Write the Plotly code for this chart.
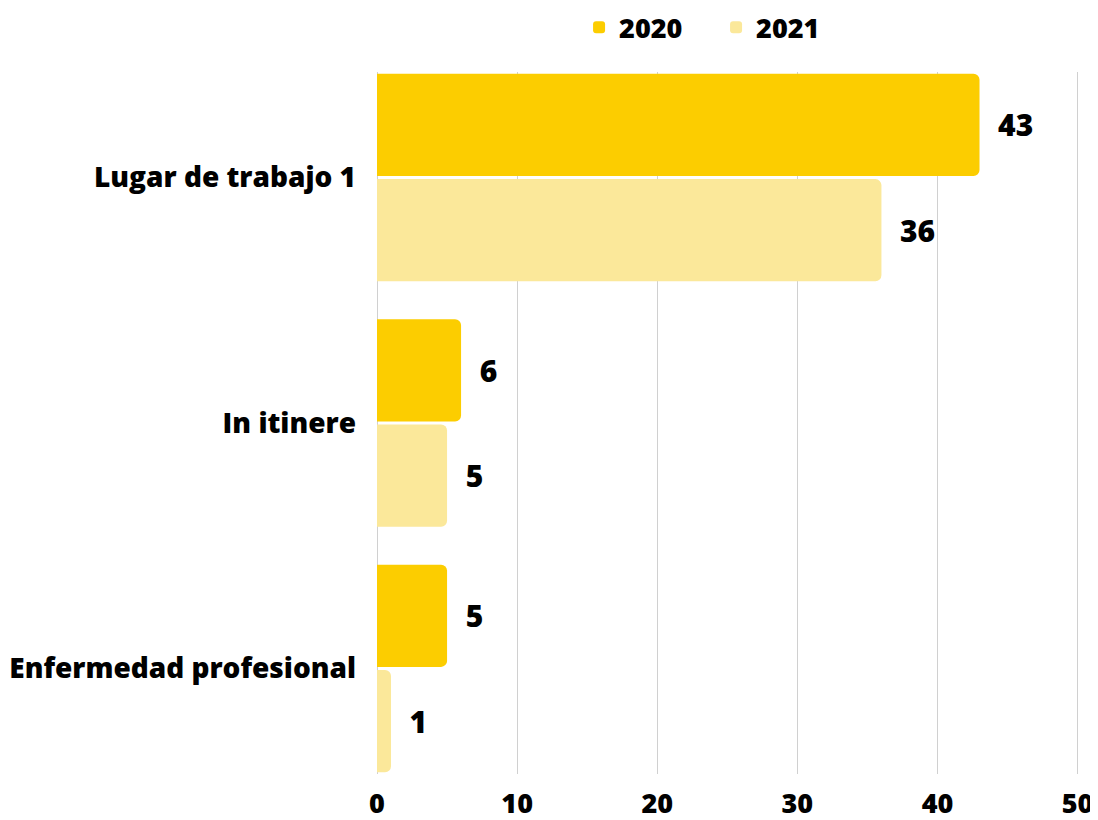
import plotly.graph_objects as go

categorias = ["Lugar de trabajo 1", "In itinere", "Enfermedad profesional"]
valores_2020 = [43, 6, 5]
valores_2021 = [36, 5, 1]
ticks_x = [0, 10, 20, 30, 40, 50]

COLOR_2020 = "#FCCD00"
COLOR_2021 = "#FBE89A"
FUENTE = "Open Sans"

fig = go.Figure()

for nombre, valores, color in [("2020", valores_2020, COLOR_2020),
                               ("2021", valores_2021, COLOR_2021)]:
    fig.add_trace(go.Bar(
        name=nombre,
        x=valores,
        y=categorias,
        orientation="h",
        marker=dict(color=color, cornerradius=6, line=dict(width=0)),
        text=valores,
        texttemplate="  %{text}",
        textposition="outside",
        textfont=dict(family=FUENTE, size=30, color="black", weight=800),
        cliponaxis=False,
        hoverinfo="x+name",
    ))

# la página añade 8px de margen al body, se compensa en el tamaño
fig.update_layout(
    width=1090,
    height=812,
    barmode="group",
    bargap=0.142,
    bargroupgap=0.03,
    paper_bgcolor="white",
    plot_bgcolor="white",
    margin=dict(l=369, r=19, t=64, b=46, autoexpand=False),
    font=dict(family=FUENTE, color="black", weight=800),
    legend=dict(
        orientation="h",
        x=0.483,
        xanchor="center",
        y=1.063,
        yanchor="middle",
        font=dict(size=27, weight=800),
        entrywidth=92,
    ),
    xaxis=dict(
        range=[0, 50.1],  # un poco más para que se vea la línea del 50
        tickvals=ticks_x,
        showgrid=True,
        gridcolor="#d0d0d0",
        gridwidth=1,
        zeroline=True,
        zerolinecolor="#d0d0d0",
        zerolinewidth=1,
        showline=False,
        tickfont=dict(size=27, weight=800),
        ticklabelstandoff=11,
        automargin=False,
        fixedrange=True,
    ),
    yaxis=dict(
        range=[2.43, -0.43],
        showgrid=False,
        zeroline=False,
        showline=False,
        ticks="",
        ticklabelstandoff=20,
        tickfont=dict(size=28, weight=800),
        automargin=False,
        fixedrange=True,
    ),
)

fig.write_html("out.html")
